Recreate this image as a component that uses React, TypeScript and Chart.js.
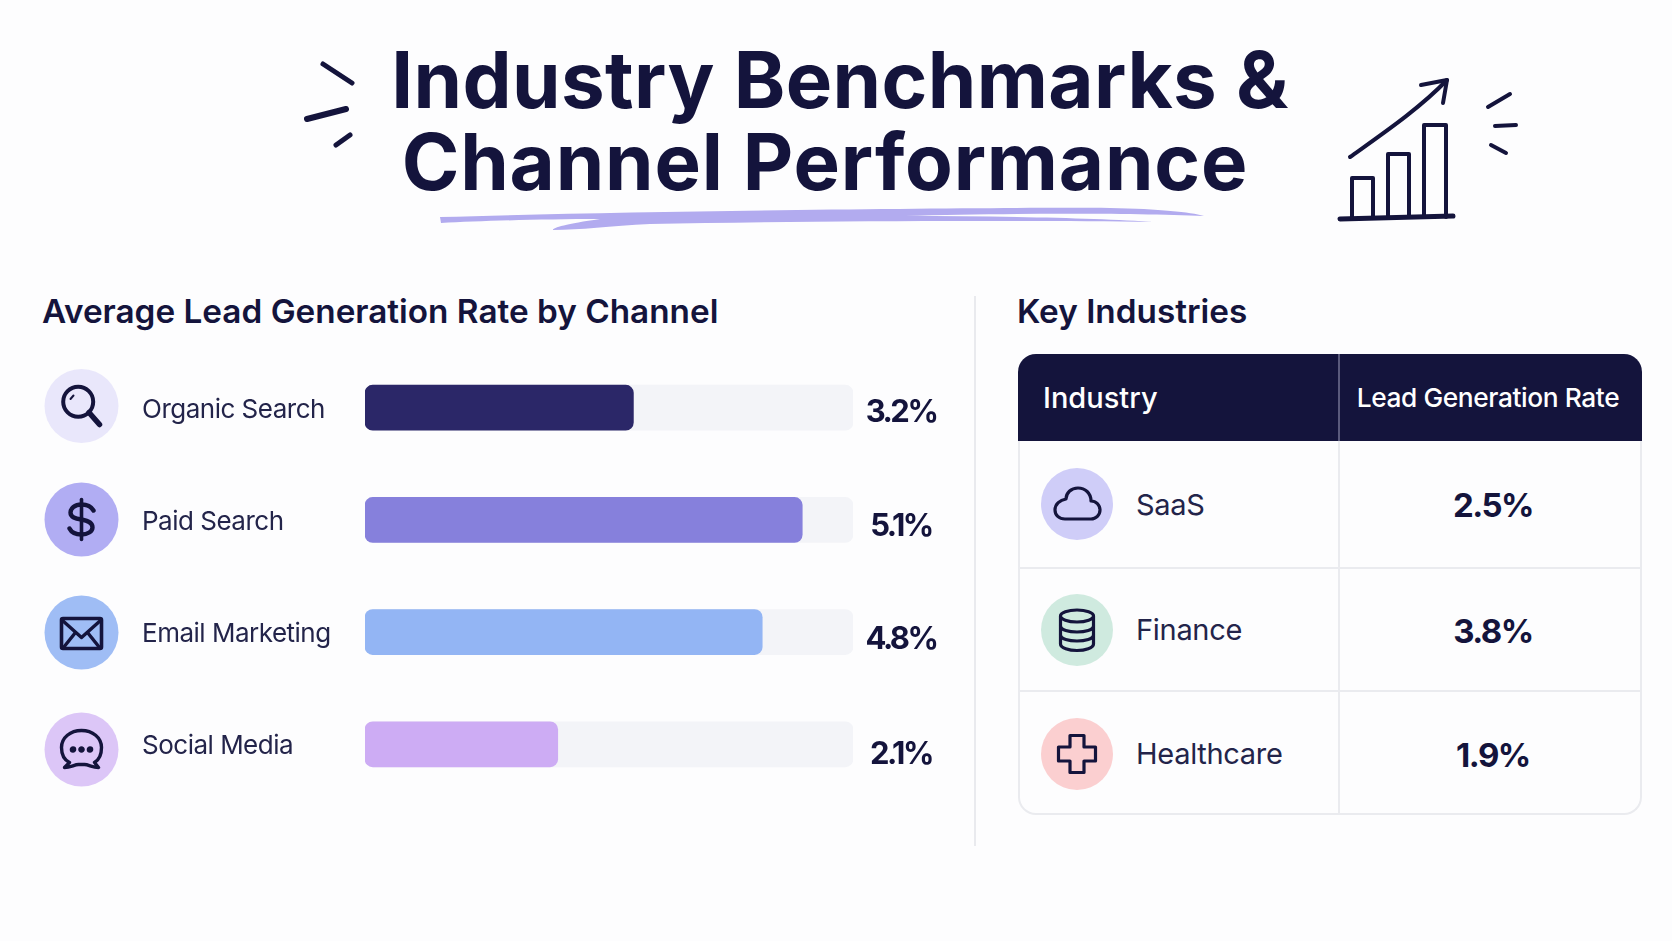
import { useEffect, useRef } from "react";
import { Chart, registerables } from "chart.js";

Chart.register(...registerables);

const channels = ["Organic Search", "Paid Search", "Email Marketing", "Social Media"];
const channelRates = ["3.2%", "5.1%", "4.8%", "2.1%"];
// filled share of each track in percent, as measured on the picture
const channelFill = [55.0, 89.6, 81.4, 39.5];
const trackFull = [100, 100, 100, 100];
const barColors = ["#2b2768", "#8680dc", "#93b5f4", "#cdacf4"];
const channelIconColors = ["#e9e7fb", "#b1adf3", "#9fbdf5", "#dcc6f7"];

const industries = ["SaaS", "Finance", "Healthcare"];
const industryRates = ["2.5%", "3.8%", "1.9%"];
const industryIconColors = ["#cfcdf8", "#cfeadf", "#fbcfd0"];

const INK = "#14143c";
const FONT = "Inter, 'Noto Sans', sans-serif";

// the percent labels drift a little lower than the bars going down the list
const rateNudge = [4.5, 6.5, 7.5, 10];

// value labels to the right of the tracks, tighter tick text
const rateLabels = {
  id: "rateLabels",
  beforeDraw(chart: Chart) {
    (chart.ctx as any).letterSpacing = "-0.5px";
  },
  afterDatasetsDraw(chart: Chart) {
    const { ctx, chartArea } = chart;
    const meta = chart.getDatasetMeta(0);
    ctx.save();
    ctx.font = `700 31px ${FONT}`;
    (ctx as any).letterSpacing = "-2.5px";
    ctx.fillStyle = INK;
    ctx.textAlign = "center";
    ctx.textBaseline = "middle";
    meta.data.forEach((bar, i) => {
      ctx.fillText(channelRates[i], chartArea.right + 48, bar.y + rateNudge[i]);
    });
    ctx.restore();
  },
};

function ChannelIcon({ index }: { index: number }) {
  const common = { fill: "none", stroke: INK, strokeWidth: 3.4, strokeLinecap: "round", strokeLinejoin: "round" } as const;
  return (
    <g {...common}>
      {index === 0 && (
        <>
          <circle cx={-3.3} cy={-4.3} r={15} strokeWidth={4} />
          <path d="M7.5 6.5 L18 18.5" strokeWidth={5.5} />
          <path d="M-11 -7 L-8 -10.5" strokeWidth={2} />
        </>
      )}
      {index === 1 && (
        <>
          <path d="M12 -9 C9 -14 4 -15 0 -15 C-7 -15 -11 -11 -11 -7 C-11 -2 -6 -1 0 0 C6 1 11 3 11 8 C11 12 6 15 0 15 C-5 15 -10 13 -12 9" strokeWidth={4.4} />
          <path d="M0 -20 V20" strokeWidth={3.6} />
        </>
      )}
      {index === 2 && (
        <>
          <rect x={-20} y={-14} width={40} height={30} rx={1.5} strokeWidth={3.6} />
          <path d="M-19 -12 L0 5 L19 -12" />
          <path d="M-18 15 L-6 0 M18 15 L6 0" />
        </>
      )}
      {index === 3 && (
        <>
          <path d="M-12 13 C-18 10 -20 4 -20 -2 C-20 -12 -11 -19 0 -19 C11 -19 20 -12 20 -2 C20 4 18 10 13 13 L17 18 C11 18 7 15 3 15 L-3 15 C-7 15 -11 18 -17 18 Z" />
          <circle cx={-8.5} cy={0} r={1.6} fill={INK} />
          <circle cx={0} cy={0} r={1.6} fill={INK} />
          <circle cx={8.5} cy={0} r={1.6} fill={INK} />
        </>
      )}
    </g>
  );
}

function IndustryIcon({ index }: { index: number }) {
  const common = { fill: "none", stroke: INK, strokeWidth: 3.2, strokeLinecap: "round", strokeLinejoin: "round" } as const;
  return (
    <g {...common}>
      {index === 0 && (
        <path d="M-12 15 H14 C19 15 23 11 23 6 C23 1 19 -3 14 -3 C14 -11 8 -16 1 -16 C-6 -16 -11 -11 -11 -5 C-17 -4 -22 0 -22 6 C-22 11 -18 15 -12 15 Z" />
      )}
      {index === 1 && (
        <>
          <ellipse cx={0} cy={-14} rx={16.5} ry={6} />
          <path d="M-16.5 -14 V14 C-16.5 18 -8 20.5 0 20.5 C8 20.5 16.5 18 16.5 14 V-14" />
          <path d="M-16.5 -4 C-16.5 0 -8 2 0 2 C8 2 16.5 0 16.5 -4" />
          <path d="M-16.5 5 C-16.5 9 -8 11 0 11 C8 11 16.5 9 16.5 5" />
        </>
      )}
      {index === 2 && (
        <path d="M-7 -18.5 H7 V-7 H18.5 V7 H7 V18.5 H-7 V7 H-18.5 V-7 H-7 Z" />
      )}
    </g>
  );
}

function Decorations() {
  return (
    <svg width={1672} height={941} style={{ position: "absolute", left: 0, top: 0 }}>
      <g fill="none" stroke={INK} strokeWidth={5} strokeLinecap="round">
        <path d="M323 64 L352 83" />
        <path d="M307 119 L346 109" strokeWidth={6} />
        <path d="M336 145 L350 135" />
        <g strokeWidth={4}>
          <path d="M1488 107 L1510 94" />
          <path d="M1495 126 L1516 125" />
          <path d="M1491 145 L1506 153" />
          <path d="M1350 157 C1385 132 1420 108 1447 80" />
          <path d="M1421 85 L1447 80 L1443 103" strokeLinejoin="round" />
          <path d="M1352 217 V178 H1373 V217" strokeLinejoin="round" />
          <path d="M1388 217 V154 H1409 V217" strokeLinejoin="round" />
          <path d="M1424 217 V125 H1446 V217" strokeLinejoin="round" />
        </g>
        <path d="M1340 219 L1453 216" strokeWidth={5} />
      </g>
      {/* brush stroke under the title */}
      <path
        fill="#b2abef"
        d="M440 217 C640 211 1000 207 1110 208 C1160 209 1190 212 1204 216 C1130 213 1000 213 905 216 C1000 216 1100 218 1155 222 C1000 220 800 221 650 224 C610 226 580 230 553 230 C552 228 565 224 600 219 C540 219 480 221 441 223 Z"
      />
      {channels.map((_, i) => (
        <g key={i} transform={`translate(81.5 ${[406, 519.5, 632.5, 749.5][i]})`}>
          <circle r={37} fill={channelIconColors[i]} />
          <ChannelIcon index={i} />
        </g>
      ))}
      <path d="M975 296 V846" stroke="#e9eaee" strokeWidth={2} />
    </svg>
  );
}

export default function App() {
  const canvasRef = useRef<HTMLCanvasElement>(null);

  useEffect(() => {
    if (!canvasRef.current) return;
    const chart = new Chart(canvasRef.current, {
      type: "bar",
      data: {
        labels: channels,
        datasets: [
          {
            data: channelFill,
            backgroundColor: barColors,
            borderRadius: 8,
            borderSkipped: false,
            barThickness: 45,
          },
          {
            data: trackFull,
            backgroundColor: "#f3f4f8",
            borderRadius: 8,
            borderSkipped: false,
            barThickness: 45,
          },
        ],
      },
      options: {
        indexAxis: "y",
        responsive: false,
        animation: false,
        grouped: false,
        layout: { autoPadding: false, padding: { left: 142, right: 107, top: 0, bottom: 0 } },
        plugins: { legend: { display: false }, tooltip: { enabled: false } },
        scales: {
          x: { min: 0, max: 100, display: false },
          y: {
            grid: { display: false },
            border: { display: false },
            afterFit: (scale) => {
              scale.width = 223;
            },
            ticks: {
              crossAlign: "far",
              labelOffset: 2,
              color: "#23244a",
              font: { family: FONT, size: 26, weight: "400" },
            },
          },
        },
      },
      plugins: [rateLabels],
    });
    return () => chart.destroy();
  }, []);

  return (
    <div style={{ position: "relative", width: 1672, height: 941, background: "#fdfdfe", overflow: "hidden", fontFamily: FONT, color: INK }}>
      <style>{"body{margin:0}"}</style>
      <Decorations />

      {/* Title */}
      <div style={{ position: "absolute", left: 0, top: 39, width: 1680, textAlign: "center", fontSize: 78, lineHeight: "82px", fontWeight: 700, letterSpacing: "0.4px", whiteSpace: "nowrap" }}>
        Industry Benchmarks &amp;
      </div>
      <div style={{ position: "absolute", left: 0, top: 121, width: 1650, textAlign: "center", fontSize: 78, lineHeight: "82px", fontWeight: 700, letterSpacing: "0.8px", whiteSpace: "nowrap" }}>
        Channel Performance
      </div>

      <div style={{ position: "absolute", left: 42, top: 290, fontSize: 33.3, lineHeight: "42px", fontWeight: 600, whiteSpace: "nowrap" }}>
        Average Lead Generation Rate by Channel
      </div>
      <div style={{ position: "absolute", left: 1017, top: 290, fontSize: 33.3, lineHeight: "42px", fontWeight: 600 }}>
        Key Industries
      </div>

      {/* Channel bars, the canvas is taller than the rows because the axis insets itself by half a label */}
      <canvas ref={canvasRef} width={960} height={486} style={{ position: "absolute", left: 0, top: 333 }} />

      {/* Industries table */}
      <div style={{ position: "absolute", left: 1018, top: 354, width: 624, height: 461, borderRadius: 18, overflow: "hidden" }}>
        <table style={{ width: 624, borderCollapse: "collapse", tableLayout: "fixed" }}>
          <colgroup>
            <col style={{ width: 321 }} />
            <col style={{ width: 303 }} />
          </colgroup>
          <thead>
            <tr style={{ height: 87, background: INK, color: "#fff" }}>
              <th style={{ textAlign: "left", paddingLeft: 25, fontSize: 29, fontWeight: 500, borderRight: "2px solid #5a5a7c" }}>Industry</th>
              <th style={{ padding: "0 6px 0 0", fontSize: 26.3, fontWeight: 500, letterSpacing: "-0.4px", whiteSpace: "nowrap" }}>Lead Generation Rate</th>
            </tr>
          </thead>
          <tbody>
            {industries.map((name, i) => (
              <tr key={name} style={{ height: [127, 123, 124][i], borderTop: i ? "2px solid #eaebef" : "none" }}>
                <td style={{ padding: 0, borderRight: "2px solid #eaebef" }}>
                  <div style={{ display: "flex", alignItems: "center" }}>
                    <svg width={72} height={72} viewBox="-36 -36 72 72" style={{ marginLeft: 23 }}>
                      <circle r={36} fill={industryIconColors[i]} />
                      <IndustryIcon index={i} />
                    </svg>
                    <span style={{ marginLeft: 23, fontSize: 29, letterSpacing: "-0.3px", color: "#23244a" }}>{name}</span>
                  </div>
                </td>
                <td style={{ padding: "2px 0 0 4px", textAlign: "center", fontSize: 33, fontWeight: 700, letterSpacing: "-1.5px" }}>{industryRates[i]}</td>
              </tr>
            ))}
          </tbody>
        </table>
      </div>
      <div style={{ position: "absolute", left: 1018, top: 441, width: 624, height: 374, boxSizing: "border-box", border: "2px solid #eaebef", borderTop: "none", borderRadius: "0 0 18px 18px" }} />
    </div>
  );
}
